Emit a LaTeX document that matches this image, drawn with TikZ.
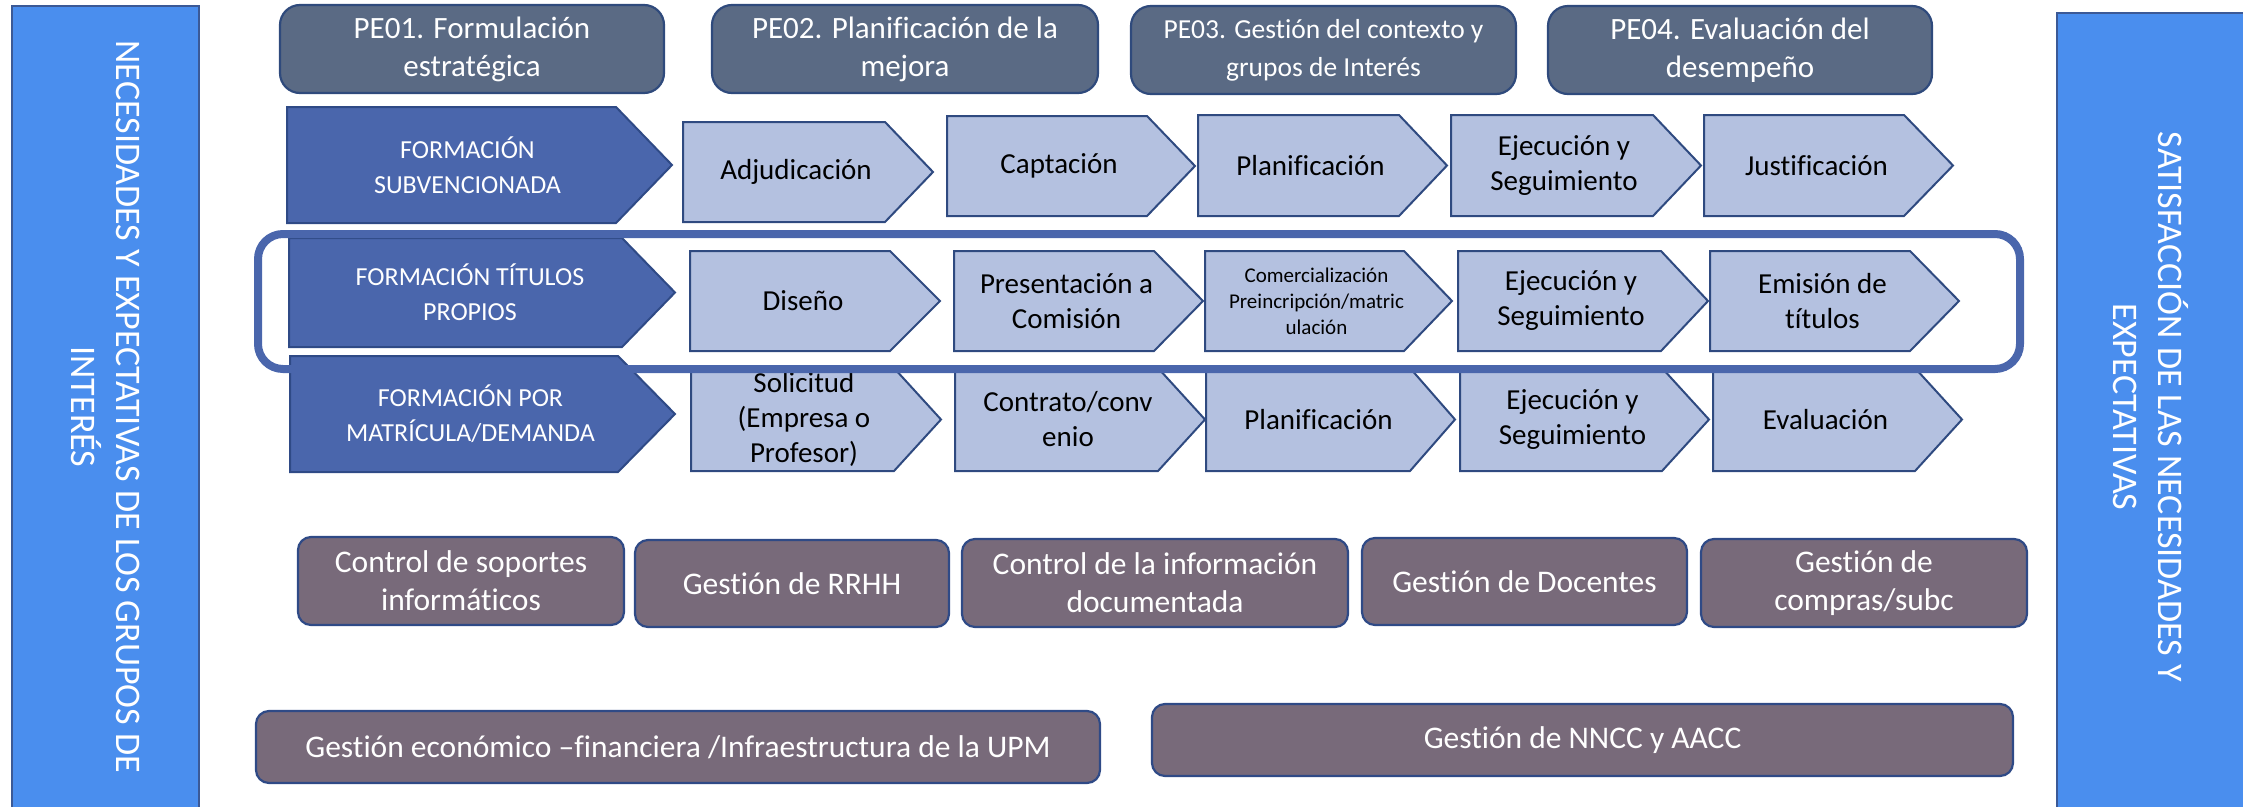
\documentclass[tikz,border=0pt]{standalone}
\usepackage{fontspec}
\setmainfont{Carlito}[Ligatures=NoCommon]
\definecolor{sidefill}{HTML}{4A8EEE}
\definecolor{sidedraw}{HTML}{3B5996}
\definecolor{pefill}{HTML}{5A6A84}
\definecolor{pedraw}{HTML}{2F4A7C}
\definecolor{darkfill}{HTML}{4A66AC}
\definecolor{darkdraw}{HTML}{2F4A86}
\definecolor{lightfill}{HTML}{B4C1E0}
\definecolor{lightdraw}{HTML}{2F4A80}
\definecolor{supfill}{HTML}{786A7A}
\definecolor{supdraw}{HTML}{2F4A86}
\definecolor{ringcol}{HTML}{4A66AC}
\newcommand{\chev}[9]{%
  \draw[#1] (#4,#7) -- (#5,#7) -- (#6,{(#7+#8)/2}) -- (#5,#8) -- (#4,#8) -- cycle;
  \node[#2] (#3) at ({(#4+#6)/2-12},{(#7+#8)/2}) {#9};}
\begin{document}
\begin{tikzpicture}[x=1pt,y=-1pt,
  sidebar/.style={fill=sidefill,draw=sidedraw,line width=1.5pt},
  sidetext/.style={text=white,align=center,rotate=-90,inner sep=0pt,font=\fontsize{36}{45}\selectfont},
  pebox/.style={fill=pefill,draw=pedraw,line width=2.2pt,rounded corners=20pt,text=white,align=center,inner sep=0pt,font=\fontsize{31}{38}\selectfont},
  darkchev/.style={fill=darkfill,draw=darkdraw,line width=2pt},
  darktext/.style={text=white,align=center,inner sep=0pt,font=\fontsize{26}{35}\selectfont},
  lightchev/.style={fill=lightfill,draw=lightdraw,line width=2pt},
  lighttext/.style={text=black,align=center,inner sep=0pt,font=\fontsize{29}{35}\selectfont},
  smalltext/.style={text=black,align=center,inner sep=0pt,font=\fontsize{21}{26}\selectfont},
  supbox/.style={fill=supfill,draw=supdraw,line width=2.2pt,rounded corners=13pt,text=white,align=center,inner sep=0pt,font=\fontsize{31.5}{38}\selectfont},
  ring/.style={draw=ringcol,line width=8pt,rounded corners=25pt}
]
\useasboundingbox (0,0) rectangle (2243,806);
% side bars
\draw[sidebar] (12,6) rectangle (199,820);
\node[sidetext] (left) at (105.5,407) {NECESIDADES Y EXPECTATIVAS DE LOS GRUPOS DE\\INTERÉS};
\draw[sidebar] (2057,13) rectangle (2260,820);
\node[sidetext] (right) at (2151,407) {SATISFACCIÓN DE LAS NECESIDADES Y\\EXPECTATIVAS};
% strategic processes
\node[pebox,minimum width=384pt,minimum height=88pt] (pe1) at (472,49) {PE01. Formulación\\estratégica};
\node[pebox,minimum width=386pt,minimum height=88pt] (pe2) at (905,49) {PE02. Planificación de la\\mejora};
\node[pebox,minimum width=385pt,minimum height=88pt,font=\fontsize{27.5}{38}\selectfont] (pe3) at (1323.5,50) {PE03. Gestión del contexto y\\grupos de Interés};
\node[pebox,minimum width=384pt,minimum height=88pt] (pe4) at (1740,50) {PE04. Evaluación del\\desempeño};
% key processes
\chev{darkchev}{darktext}{sub}{287}{616}{672}{107}{223}{FORMACIÓN\\SUBVENCIONADA}
\chev{darkchev}{darktext}{tit}{289}{622}{675}{238}{347}{FORMACIÓN TÍTULOS\\PROPIOS}
\chev{darkchev}{darktext}{por}{290}{618}{675}{356}{472}{FORMACIÓN POR\\MATRÍCULA/DEMANDA}
% row 1
\chev{lightchev}{lighttext}{a1}{683}{885}{933}{122}{222}{Adjudicación}
\chev{lightchev}{lighttext}{a2}{947}{1147}{1195}{116}{216}{Captación}
\chev{lightchev}{lighttext}{a3}{1198}{1399}{1447}{115}{216}{Planificación}
\chev{lightchev}{lighttext}{a4}{1451}{1653}{1701}{115}{216}{Ejecución y\\Seguimiento}
\chev{lightchev}{lighttext}{a5}{1704}{1904}{1953}{115}{216}{Justificación}
% row 2
\chev{lightchev}{lighttext}{b1}{690}{890}{940}{251}{351}{Diseño}
\chev{lightchev}{lighttext}{b2}{954}{1154}{1203}{251}{351}{Presentación a\\Comisión}
\chev{lightchev}{smalltext}{b3}{1205}{1404}{1452}{251}{351}{Comercialización\\Preincripción/matric\\ulación}
\chev{lightchev}{lighttext}{b4}{1458}{1661}{1708}{251}{351}{Ejecución y\\Seguimiento}
\chev{lightchev}{lighttext}{b5}{1710}{1910}{1959}{251}{351}{Emisión de\\títulos}
% row 3
\chev{lightchev}{lighttext}{c1}{691}{894}{941}{368}{471}{Solicitud\\(Empresa o\\Profesor)}
\chev{lightchev}{lighttext}{c2}{955}{1158}{1205}{368}{471}{Contrato/conv\\enio}
\chev{lightchev}{lighttext}{c3}{1206}{1410}{1455}{368}{471}{Planificación}
\chev{lightchev}{lighttext}{c4}{1460}{1662}{1709}{368}{471}{Ejecución y\\Seguimiento}
\chev{lightchev}{lighttext}{c5}{1713}{1915}{1962}{368}{471}{Evaluación}
% highlight ring
\draw[ring] (258,234) rectangle (2020,369);
% support processes
\node[supbox,minimum width=326pt,minimum height=88pt] (s1) at (461,581) {Control de soportes\\informáticos};
\node[supbox,minimum width=314pt,minimum height=87pt] (s2) at (792,583.5) {Gestión de RRHH};
\node[supbox,minimum width=386pt,minimum height=88pt] (s3) at (1155,583) {Control de la información\\documentada};
\node[supbox,minimum width=325pt,minimum height=87pt] (s4) at (1524.5,581.5) {Gestión de Docentes};
\node[supbox,minimum width=326pt,minimum height=88pt] (s5) at (1864,583) {Gestión de\\compras/subc};
\node[supbox,minimum width=844pt,minimum height=72pt] (g1) at (678,747) {Gestión económico –financiera /Infraestructura de la UPM};
\node[supbox,minimum width=861pt,minimum height=72pt] (g2) at (1582.5,740) {Gestión de NNCC y AACC};
\end{tikzpicture}
\end{document}
